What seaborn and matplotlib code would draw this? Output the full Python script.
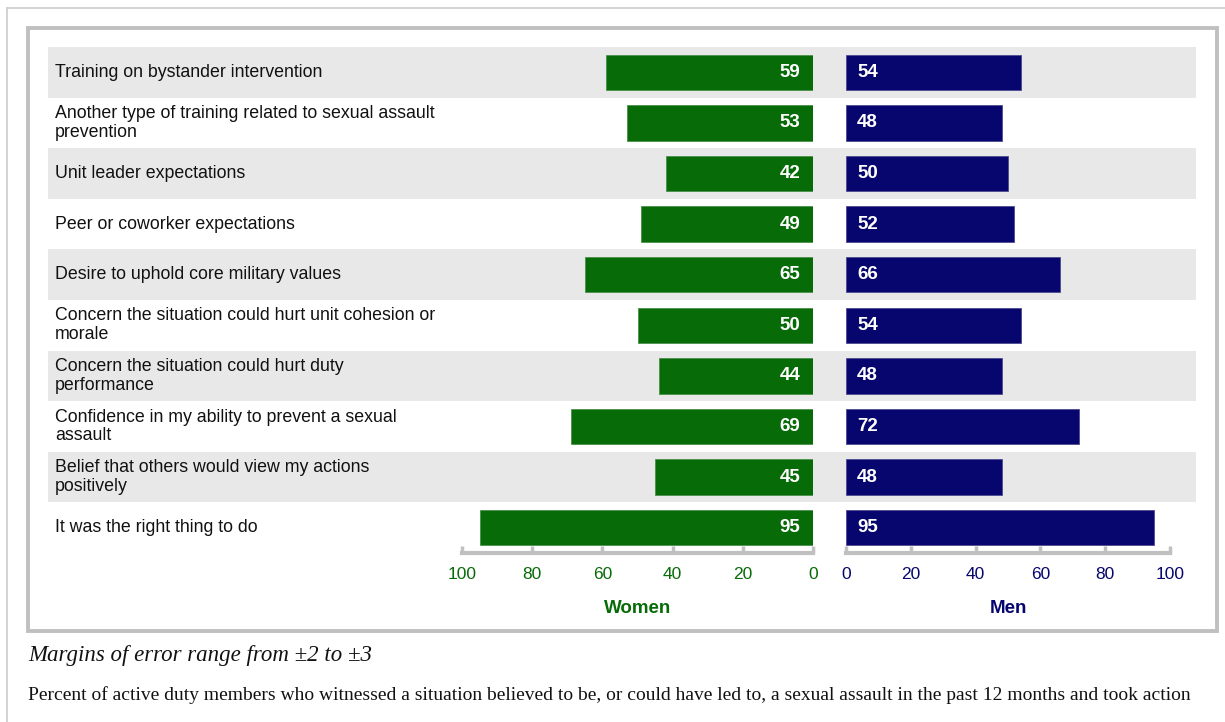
import matplotlib.pyplot as plt
import matplotlib.patches as mpatches
from matplotlib.lines import Line2D
import pandas as pd
import seaborn as sns

# data
actions = [
    "Training on bystander intervention",
    "Another type of training related to sexual assault\nprevention",
    "Unit leader expectations",
    "Peer or coworker expectations",
    "Desire to uphold core military values",
    "Concern the situation could hurt unit cohesion or\nmorale",
    "Concern the situation could hurt duty\nperformance",
    "Confidence in my ability to prevent a sexual\nassault",
    "Belief that others would view my actions\npositively",
    "It was the right thing to do",
]
women = [59, 53, 42, 49, 65, 50, 44, 69, 45, 95]
men = [54, 48, 50, 52, 66, 54, 48, 72, 48, 95]
ticks = [0, 20, 40, 60, 80, 100]

caption = "Margins of error range from \u00b12 to \u00b13"
note = ("Percent of active duty members who witnessed a situation believed to be, "
        "or could have led to, a sexual assault in the past 12 months and took action")

GREEN = "#076b07"
NAVY = "#06066e"
BAND = "#e8e8e8"
FRAME = "#c0c0c0"

W, H = 1225, 722


def fx(px):
    return px / W


def fy(py):
    return 1 - py / H


def main():
    sns.set_theme(style="white")
    plt.rcParams["font.family"] = ["Liberation Sans", "DejaVu Sans"]

    df = pd.DataFrame({"action": actions, "Women": women, "Men": men})

    fig = plt.figure(figsize=(W / 100, H / 100), dpi=100, facecolor="white")

    # outer frame lines
    fig.add_artist(Line2D([fx(7), fx(7)], [fy(8), 0], color="#cccccc", lw=1.2))
    fig.add_artist(Line2D([fx(7), 1], [fy(8), fy(8)], color="#cccccc", lw=1.2))
    # inner chart box
    fig.add_artist(mpatches.Rectangle((fx(28), fy(631)), fx(1217) - fx(28), fy(28) - fy(631),
                                      transform=fig.transFigure, fill=False,
                                      edgecolor=FRAME, lw=2.8))

    top, bottom = fy(47), fy(553)
    n = len(actions)

    # background rows with labels
    ax_bg = fig.add_axes([fx(48), bottom, fx(1196) - fx(48), top - bottom])
    ax_bg.set_xlim(0, 1)
    ax_bg.set_ylim(n - 0.5, -0.5)
    for i, lab in enumerate(actions):
        if i % 2 == 0:
            ax_bg.axhspan(i - 0.5, i + 0.5, color=BAND, lw=0)
        ax_bg.text(0.006, i, lab, va="center", ha="left", fontsize=12.8, color="#111111",
                   linespacing=1.15)
    ax_bg.axis("off")

    # women (pointing left)
    ax_w = fig.add_axes([fx(462), bottom, fx(813) - fx(462), top - bottom])
    sns.barplot(data=df, x="Women", y="action", ax=ax_w, color=GREEN, orient="h",
                width=0.7, saturation=1, edgecolor="#4a8f4a", linewidth=0.6)
    ax_w.set_xlim(100, 0)
    for i, v in enumerate(women):
        ax_w.annotate(str(v), xy=(0, i), xytext=(-9, 0), textcoords="offset points",
                      ha="right", va="center", color="white", fontsize=13.5, fontweight="bold")

    # men (pointing right)
    ax_m = fig.add_axes([fx(846), bottom, fx(1170) - fx(846), top - bottom])
    sns.barplot(data=df, x="Men", y="action", ax=ax_m, color=NAVY, orient="h",
                width=0.7, saturation=1, edgecolor="#4a4a90", linewidth=0.6)
    ax_m.set_xlim(0, 100)
    for i, v in enumerate(men):
        ax_m.annotate(str(v), xy=(0, i), xytext=(8, 0), textcoords="offset points",
                      ha="left", va="center", color="white", fontsize=13.5, fontweight="bold")

    for ax, col, name in [(ax_w, GREEN, "Women"), (ax_m, NAVY, "Men")]:
        ax.set_facecolor("none")
        ax.set_ylim(n - 0.5, -0.5)
        ax.set_yticks([])
        ax.set_ylabel("")
        ax.set_xticks(ticks)
        ax.set_xticklabels([str(t) for t in ticks])
        ax.tick_params(axis="x", direction="in", length=5, width=2.5, color=FRAME,
                       labelcolor=col, labelsize=12.5, pad=10, bottom=True)
        for s in ["top", "left", "right"]:
            ax.spines[s].set_visible(False)
        ax.spines["bottom"].set_color(FRAME)
        ax.spines["bottom"].set_linewidth(3)
        ax.set_xlabel(name, color=col, fontsize=13.5, fontweight="bold", labelpad=13)

    fig.text(fx(28), fy(655), caption, fontsize=16.5, style="italic", va="center",
             ha="left", family=["Liberation Serif", "DejaVu Serif"], color="#111111")
    fig.text(fx(28), fy(695), note, fontsize=14, va="center", ha="left",
             family=["Liberation Serif", "DejaVu Serif"], color="#111111")

    fig.savefig("out.png", dpi=100, facecolor="white")


if __name__ == "__main__":
    main()
